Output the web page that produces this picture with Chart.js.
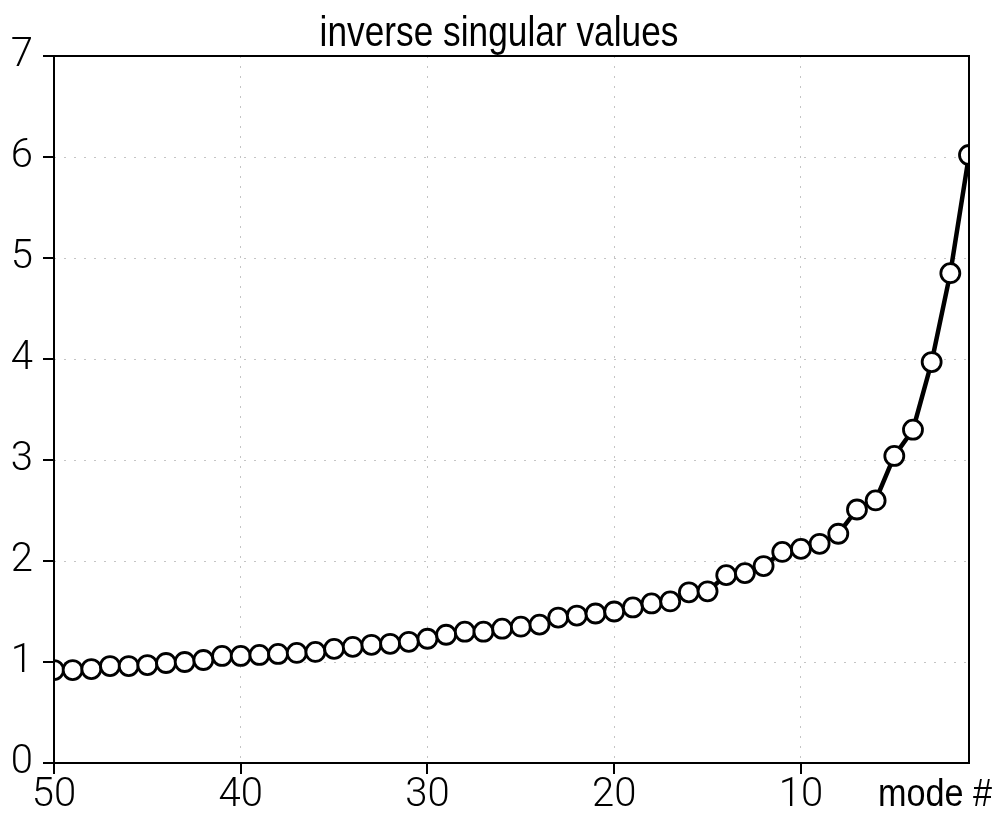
<!DOCTYPE html>
<html>
<head>
<meta charset="utf-8">
<title>inverse singular values</title>
<script src="https://cdn.jsdelivr.net/npm/chart.js@4/dist/chart.umd.min.js"></script>
<style>
    html, body { margin: 0; padding: 0; background: #fff; }
    canvas { display: block; }
</style>
</head>
<body>
<canvas id="svChart" width="998" height="821"></canvas>
<script>
// Inverse singular values per mode, from mode 50 (left) down to mode 1 (right)
const modes = [50, 49, 48, 47, 46, 45, 44, 43, 42, 41,
               40, 39, 38, 37, 36, 35, 34, 33, 32, 31,
               30, 29, 28, 27, 26, 25, 24, 23, 22, 21,
               20, 19, 18, 17, 16, 15, 14, 13, 12, 11,
               10, 9, 8, 7, 6, 5, 4, 3, 2, 1];
const invSingular = [0.92, 0.92, 0.93, 0.96, 0.96, 0.97, 0.99, 1.00, 1.02, 1.06,
                     1.06, 1.07, 1.08, 1.09, 1.10, 1.13, 1.15, 1.17, 1.18, 1.20,
                     1.23, 1.27, 1.30, 1.30, 1.33, 1.35, 1.37, 1.44, 1.46, 1.48,
                     1.50, 1.54, 1.58, 1.60, 1.69, 1.70, 1.86, 1.88, 1.95, 2.09,
                     2.12, 2.17, 2.27, 2.51, 2.60, 3.04, 3.30, 3.97, 4.85, 6.02];

const xTicks = [50, 40, 30, 20, 10];
const yTicks = [0, 1, 2, 3, 4, 5, 6, 7];

const TEXT_FONT = "'Liberation Sans', Arial, sans-serif";
const TICK_FONT = "Roboto, 'Liberation Sans', sans-serif";

// condensed text: draw with a horizontal squeeze
function narrowText(ctx, text, x, y, size, squeeze, align) {
    ctx.save();
    ctx.font = size + 'px ' + TEXT_FONT;
    ctx.textAlign = align;
    ctx.textBaseline = 'alphabetic';
    ctx.translate(x, y);
    ctx.scale(squeeze, 1);
    ctx.fillText(text, 0, 0);
    ctx.restore();
}

// frame around the plot, outward tick marks, title and the "mode #" label
const framePlugin = {
    id: 'frame',
    afterDraw(chart) {
        const { ctx, chartArea: a, scales } = chart;
        ctx.save();
        ctx.strokeStyle = '#000';
        ctx.lineWidth = 2;
        ctx.strokeRect(a.left, a.top, a.right - a.left, a.bottom - a.top);

        ctx.beginPath();
        yTicks.forEach(v => {
            const y = Math.round(scales.y.getPixelForValue(v));
            ctx.moveTo(a.left - 11, y);
            ctx.lineTo(a.left, y);
        });
        xTicks.forEach(v => {
            const x = Math.round(scales.x.getPixelForValue(v));
            ctx.moveTo(x, a.bottom);
            ctx.lineTo(x, a.bottom + 11);
        });
        ctx.stroke();

        ctx.fillStyle = '#000';
        narrowText(ctx, 'inverse singular values', chart.width / 2, 46, 42, 0.84, 'center');
        narrowText(ctx, 'mode #', chart.width - 6, 806, 38, 0.9, 'right');
        ctx.restore();
    }
};

const points = modes.map((m, i) => ({ x: m, y: invSingular[i] }));

new Chart(document.getElementById('svChart'), {
    type: 'line',
    data: {
        datasets: [{
            data: points,
            borderColor: '#000',
            borderWidth: 4.5,
            tension: 0,
            pointRadius: 9.5,
            pointBorderWidth: 2.8,
            pointBorderColor: '#000',
            pointBackgroundColor: '#fff'
        }]
    },
    options: {
        responsive: false,
        animation: false,
        layout: { padding: { left: 0, right: 29, top: 56, bottom: 0 } },
        plugins: {
            legend: { display: false },
            tooltip: { enabled: false },
            title: { display: false }
        },
        scales: {
            x: {
                type: 'linear',
                reverse: true,
                min: 1,
                max: 50,
                afterBuildTicks: s => { s.ticks = xTicks.map(v => ({ value: v })); },
                afterFit: s => { s.height = 58; },
                grid: { color: '#c4c4c4', lineWidth: 1, drawTicks: false, borderDash: [2, 8] },
                border: { display: false, dash: [2, 8] },
                ticks: {
                    color: '#000',
                    padding: 9,
                    maxRotation: 0,
                    font: { family: TICK_FONT, size: 40, weight: 300 }
                }
            },
            y: {
                min: 0,
                max: 7,
                afterBuildTicks: s => { s.ticks = yTicks.map(v => ({ value: v })); },
                afterFit: s => { s.width = 54; },
                grid: { color: '#c4c4c4', lineWidth: 1, drawTicks: false, borderDash: [2, 8] },
                border: { display: false, dash: [2, 8] },
                ticks: {
                    color: '#000',
                    padding: 21,
                    font: { family: TICK_FONT, size: 40, weight: 300 }
                }
            }
        }
    },
    plugins: [framePlugin]
});
</script>
</body>
</html>
